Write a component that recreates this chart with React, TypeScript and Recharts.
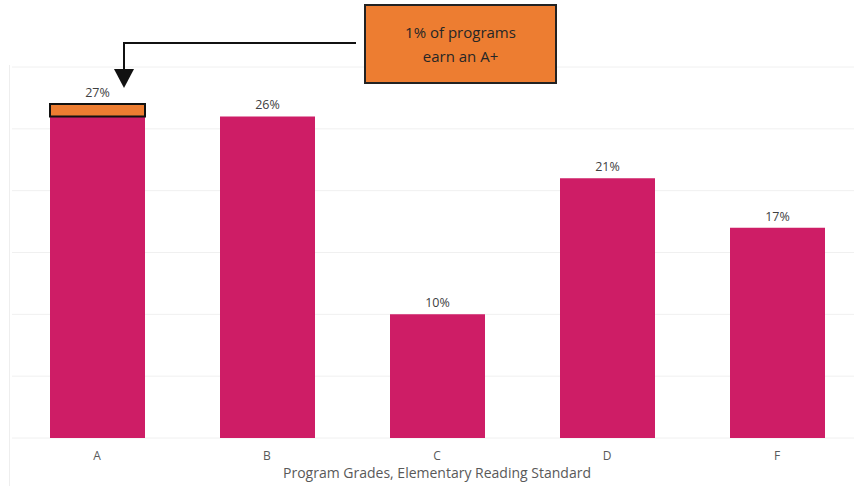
import { BarChart, Bar, XAxis, YAxis, CartesianGrid, LabelList, Cell } from 'recharts';

const grades = ['A', 'B', 'C', 'D', 'F'];
const basePct = [26, 26, 10, 21, 17];
const aPlusPct = [1, 0, 0, 0, 0];
const yTicks = [0, 5, 10, 15, 20, 25, 30];

const data = grades.map((g, i) => ({ grade: g, base: basePct[i], plus: aPlusPct[i] }));

const MAGENTA = '#CE1D66';
const ORANGE = '#ED7D31';
const FONT = '"Open Sans", sans-serif';

// total label sits above the stack, so lift it past the A+ slice when there is one
function TotalLabel(props: any) {
  const { x, y, width, height, index } = props;
  const d = data[index];
  const pxPerUnit = d.base ? height / d.base : 0;
  const top = y - d.plus * pxPerUnit;
  return (
    <text x={x + width / 2} y={top - 7} textAnchor="middle" fill="#404040" fontSize={12.5} fontFamily="Open Sans">
      {`${d.base + d.plus}%`}
    </text>
  );
}

export default function App() {
  return (
    <div style={{ position: 'absolute', left: 0, top: 0, width: 854, height: 486, overflow: 'hidden', background: '#fff', fontFamily: FONT }}>
      <div style={{ position: 'absolute', left: 9, top: 65, width: 845, height: 421, borderLeft: '1px solid #eeeeee' }} />
      <BarChart width={862} height={486} data={data} margin={{ top: 67, right: 0, bottom: 28, left: 12 }}>
        <CartesianGrid vertical={false} stroke="#f0f0f0" />
        <YAxis hide domain={[0, 30]} ticks={yTicks} />
        <XAxis
          dataKey="grade"
          height={20}
          axisLine={false}
          tickLine={false}
          tickMargin={7}
          tick={{ fill: '#595959', fontSize: 12, fontFamily: FONT }}
          label={{ value: 'Program Grades, Elementary Reading Standard', position: 'bottom', offset: 10, fill: '#595959', fontSize: 14, fontFamily: FONT }}
        />
        <Bar dataKey="base" stackId="s" fill={MAGENTA} barSize={95} isAnimationActive={false}>
          <LabelList dataKey="base" content={<TotalLabel />} />
        </Bar>
        <Bar dataKey="plus" stackId="s" fill={ORANGE} barSize={95} isAnimationActive={false}>
          {data.map((d, i) => (
            <Cell key={i} stroke={d.plus > 0 ? '#111' : 'none'} strokeWidth={2} />
          ))}
        </Bar>
      </BarChart>
      <svg style={{ position: 'absolute', left: 0, top: 0 }} width={854} height={486}>
        <polyline points="356,43 124,43 124,72" fill="none" stroke="#111" strokeWidth={2} />
        <polygon points="114,69 134,69 124,88" fill="#111" />
      </svg>
      <div
        style={{
          position: 'absolute', left: 364, top: 4, width: 189, height: 76,
          background: ORANGE, border: '2px solid #222', display: 'flex',
          alignItems: 'center', justifyContent: 'center', textAlign: 'center',
          color: '#262626', fontSize: 15, lineHeight: '24px',
        }}
      >
        1% of programs<br />earn an A+
      </div>
    </div>
  );
}
